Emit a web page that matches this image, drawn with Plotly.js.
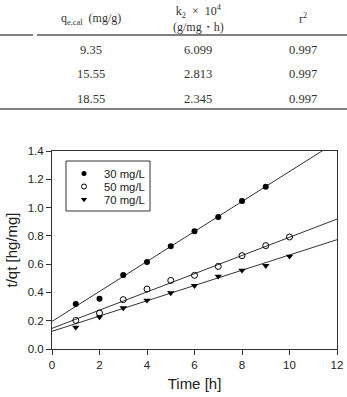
<!DOCTYPE html>
<html><head><meta charset="utf-8">
<script src="https://cdn.plot.ly/plotly-3.0.1.min.js"></script>
<style>html,body{margin:0;padding:0;background:#fff}#chart{width:347px;height:397px}</style>
</head><body><div id="chart"></div>
<script>
// ---- table data ----
var tableHeaders = ["q<sub>e,cal</sub>  (mg/g)", "k<sub>2</sub>  ×  10<sup>4</sup><br>(g/mg・h)", "r<sup>2</sup>"];
var qeCal = ["9.35", "15.55", "18.55"];
var k2x1e4 = ["6.099", "2.813", "2.345"];
var r2 = ["0.997", "0.997", "0.997"];

// ---- chart data ----
var seriesNames = ["30 mg/L", "50 mg/L", "70 mg/L"];
var time30 = [1, 2, 3, 4, 5, 6, 7, 8, 9];
var tq30 = [0.318, 0.356, 0.523, 0.615, 0.726, 0.832, 0.933, 1.047, 1.148];
var time50 = [1, 2, 3, 4, 5, 6, 7, 8, 9, 10];
var tq50 = [0.202, 0.255, 0.349, 0.424, 0.485, 0.521, 0.584, 0.660, 0.731, 0.792];
var time70 = [1, 2, 3, 4, 5, 6, 7, 8, 9, 10];
var tq70 = [0.153, 0.226, 0.290, 0.344, 0.396, 0.448, 0.514, 0.556, 0.589, 0.655];
var fitIntercept = [0.195, 0.146, 0.125];
var fitSlope = [0.106, 0.0644, 0.054];
var fitRange = [0, 12];

var W = 347, H = 397, mL = 52, mR = 10, mT = 151, mB = 48;
var pw = W - mL - mR, ph = H - mT - mB;
function px(x) { return (x - mL) / pw; }
function py(y) { return (H - mB - y) / ph; }

var traces = [];
var xs = [time30, time50, time70], ys = [tq30, tq50, tq70];
var markers = [
  {symbol: "circle", color: "#000", size: 6, line: {color: "#000", width: 0}},
  {symbol: "circle-open", color: "#000", size: 6, line: {color: "#000", width: 1}},
  {symbol: "triangle-down", color: "#000", size: 6.5, line: {color: "#000", width: 0}}
];
for (var i = 0; i < 3; i++) {
  traces.push({
    x: fitRange, y: fitRange.map(function (t) { return fitIntercept[i] + fitSlope[i] * t; }),
    mode: "lines", line: {color: "#333", width: 1}, showlegend: false, hoverinfo: "skip"
  });
}
for (var j = 0; j < 3; j++) {
  traces.push({x: xs[j], y: ys[j], mode: "markers", name: seriesNames[j], marker: markers[j],
    cliponaxis: false, showlegend: false});
}

// custom compact legend on a hidden pixel-coordinate overlay axis
var legY = [173.5, 186.5, 199.5];
var legMX = 84, legTX = 102;
for (var k = 0; k < 3; k++) {
  var m = JSON.parse(JSON.stringify(markers[k]));
  m.size = m.size - 1;
  traces.push({x: [legMX], y: [legY[k]], xaxis: "x2", yaxis: "y2", mode: "markers",
    marker: m, showlegend: false, cliponaxis: false, hoverinfo: "skip"});
}

var serif = "Liberation Serif, Times New Roman, serif";
var sans = "Liberation Sans, Arial, sans-serif";
var ann = [], shapes = [];
var colX = [91, 198, 303];
var headY = [19, 18, 19];
for (var c = 0; c < 3; c++) {
  ann.push({xref: "paper", yref: "paper", x: px(colX[c]), y: py(headY[c]), text: tableHeaders[c],
    showarrow: false, xanchor: "center", yanchor: "middle", font: {family: serif, size: 12, color: "#333"}});
}
var rowY = [50, 74, 99];
var cols = [qeCal, k2x1e4, r2];
for (var r = 0; r < 3; r++) {
  for (var c2 = 0; c2 < 3; c2++) {
    ann.push({xref: "paper", yref: "paper", x: px(colX[c2]), y: py(rowY[r]), text: cols[c2][r],
      showarrow: false, xanchor: "center", yanchor: "middle", font: {family: serif, size: 12.5, color: "#333"}});
  }
}
for (var k2 = 0; k2 < 3; k2++) {
  ann.push({xref: "paper", yref: "paper", x: px(legTX), y: py(legY[k2]), text: seriesNames[k2],
    showarrow: false, xanchor: "left", yanchor: "middle", font: {family: sans, size: 11.3, color: "#222"}});
}
shapes.push({type: "rect", xref: "paper", yref: "paper", x0: px(66), x1: px(150), y0: py(161), y1: py(211),
  line: {color: "#333", width: 1}, fillcolor: "rgba(0,0,0,0)"});
shapes.push({type: "line", xref: "paper", yref: "paper", x0: px(0), x1: px(33), y0: py(35), y1: py(35), line: {color: "#555", width: 1.5}});
shapes.push({type: "line", xref: "paper", yref: "paper", x0: px(37), x1: px(347), y0: py(35), y1: py(35), line: {color: "#555", width: 1.5}});
shapes.push({type: "line", xref: "paper", yref: "paper", x0: px(0), x1: px(347), y0: py(109), y1: py(109), line: {color: "#555", width: 1.5}});

var layout = {
  width: W, height: H,
  margin: {l: mL, r: mR, t: mT, b: mB},
  paper_bgcolor: "#fff", plot_bgcolor: "#fff",
  font: {family: sans, color: "#222", size: 11.5},
  xaxis: {range: [0, 12], dtick: 2, tick0: 0, ticks: "outside", ticklen: 5, tickcolor: "#333",
    showline: true, linecolor: "#333", linewidth: 1, mirror: true, showgrid: false, zeroline: false,
    title: {text: "Time [h]", font: {size: 15}, standoff: 8}},
  yaxis: {range: [0, 1.4], dtick: 0.2, tick0: 0, ticks: "outside", ticklen: 5, tickcolor: "#333",
    tickformat: ".1f",
    showline: true, linecolor: "#333", linewidth: 1, mirror: true, showgrid: false, zeroline: false,
    title: {text: "t/qt [hg/mg]", font: {size: 15}, standoff: 6}},
  xaxis2: {overlaying: "x", range: [mL, W - mR], visible: false, fixedrange: true},
  yaxis2: {overlaying: "y", range: [H - mB, mT], visible: false, fixedrange: true},
  showlegend: false,
  annotations: ann, shapes: shapes
};
Plotly.newPlot("chart", traces, layout, {displayModeBar: false, staticPlot: true});
</script></body></html>
